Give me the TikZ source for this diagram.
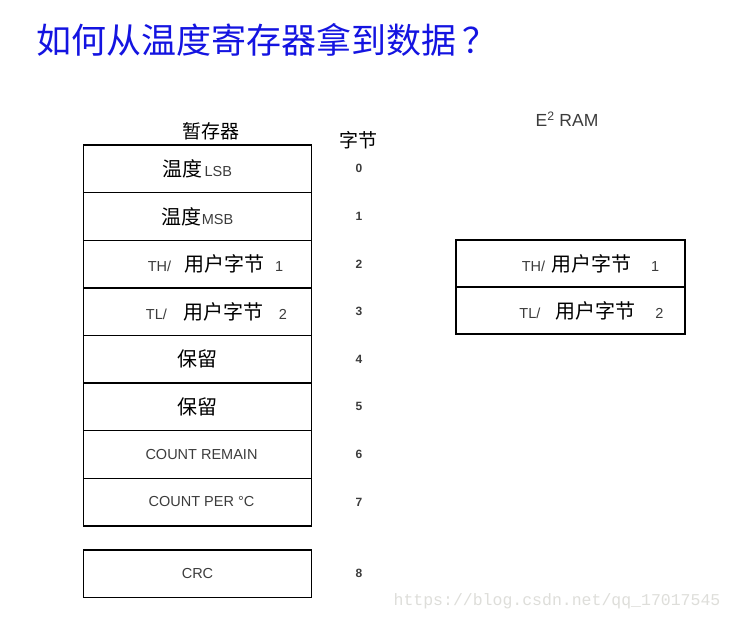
\documentclass[tikz,border=0pt]{standalone}
\usepackage{fontspec}
\setmainfont{Liberation Sans}
\newfontfamily\cjk{Noto Sans CJK SC}
\newfontfamily\wmfont{Liberation Mono}
\usetikzlibrary{positioning}
\definecolor{titleblue}{RGB}{20,20,225}
\definecolor{labelgray}{RGB}{60,60,60}
\definecolor{wmgray}{RGB}{222,222,218}
\newcommand{\zh}[1]{{\cjk\fontsize{20}{22}\selectfont #1}}
\newcommand{\en}[1]{{\color{labelgray}\fontsize{14.5}{16}\selectfont #1}}
\tikzset{
    reg/.style={draw, line width=1.4pt, minimum width=228pt, minimum height=47.6pt, inner sep=0pt, outer sep=0pt},
    eeprom/.style={reg, minimum width=229pt, minimum height=47pt},
    head/.style={font=\cjk\fontsize{19}{21}\selectfont},
    bytenum/.style={font=\fontsize{12}{14}\selectfont\bfseries, text=labelgray}
}

\begin{document}
\begin{tikzpicture}[x=1pt, y=-1pt, node distance=0pt]
  \path[use as bounding box, fill=white] (0,0) rectangle (734,621);
  \node[anchor=west, text=titleblue, font=\cjk\fontsize{35}{40}\selectfont] (title) at (33,40) {如何从温度寄存器拿到数据\hspace{6pt}？};
  % scratchpad
  \node[head] (hreg) at (211,131) {暂存器};
  \node[reg] (r0) at (197.5,168.8) {\zh{温度}\,\en{LSB}};
  \node[reg, below=of r0] (r1) {\zh{温度}\en{MSB}};
  \node[reg, below=of r1] (r2) {\hspace*{36pt}\en{TH/}\hspace{13pt}\zh{用户字节}\hspace{11pt}\en{1}};
  \node[reg, below=of r2] (r3) {\hspace*{38pt}\en{TL/}\hspace{17pt}\zh{用户字节}\hspace{15pt}\en{2}};
  \node[reg, below=of r3] (r4) {\zh{保留}};
  \node[reg, below=of r4] (r5) {\zh{保留}};
  \node[reg, below=of r5] (r6) {\hspace*{8pt}\en{COUNT REMAIN}};
  \node[reg, below=of r6] (r7) {\hspace*{8pt}\en{COUNT PER \textdegree C}};
  \node[reg, below=24pt of r7] (r8) {\en{CRC}};
  % byte numbers
  \node[head] (hbyte) at (358,140) {字节};
  \coordinate (col) at (359,0);
  \foreach \i in {0,...,8}
    \node[bytenum] (b\i) at (r\i -| col) {\i};
  % eeprom
  \node (heep) at (567,119) {\fontsize{17.5}{19}\selectfont\color{labelgray}E\textsuperscript{2} RAM};
  \node[eeprom] (e1) at (570.5,263.5) {\hspace*{40pt}\en{TH/}\hspace{6pt}\zh{用户字节}\hspace{20pt}\en{1}};
  \node[eeprom, below=of e1] (e2) {\hspace*{42pt}\en{TL/}\hspace{15pt}\zh{用户字节}\hspace{20pt}\en{2}};
  \node[text=wmgray, font=\wmfont\fontsize{16.5}{18}\selectfont] (wm) at (557,601) {https://blog.csdn.net/qq\_17017545};
\end{tikzpicture}
\end{document}
